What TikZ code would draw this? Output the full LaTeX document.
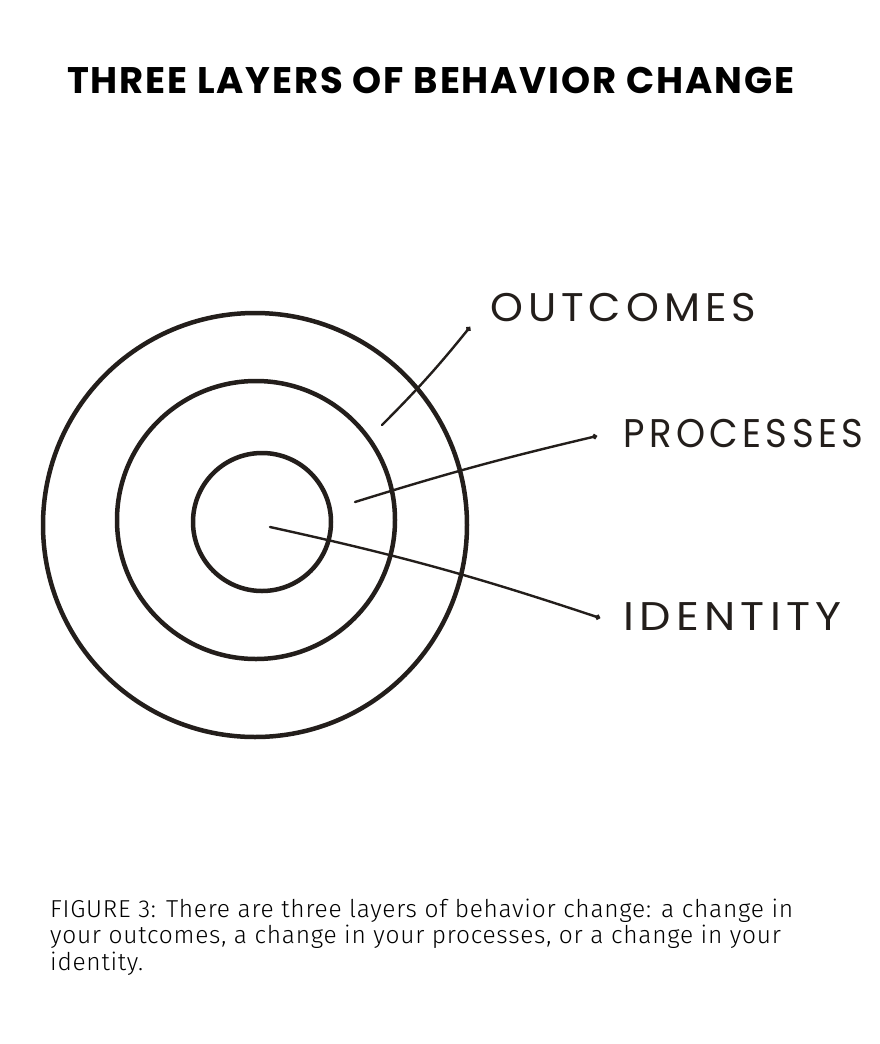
\documentclass[tikz,border=0pt]{standalone}
\usepackage{fontspec}
\setmainfont{Fira Sans Light}[LetterSpace=3]
\newfontfamily\titlefont{Poppins}[LetterSpace=5]
\newfontfamily\handfont{Poppins}[LetterSpace=12]
\usetikzlibrary{arrows.meta}

\definecolor{inkc}{HTML}{231E1B}

% handwritten label, stretched sideways by #1
\newcommand{\handlabel}[2]{\scalebox{#1}[1]{#2}}

\tikzset{
  ring/.style={circle, draw=inkc, line width=4.5pt, inner sep=0pt},
  pointer/.style={draw=inkc, line width=2.4pt, line cap=round, -{Circle[length=5pt]}},
  hand/.style={font=\handfont\fontsize{40}{40}\selectfont, text=inkc, inner sep=0pt, anchor=base west},
}

\begin{document}
\begin{tikzpicture}[x=1pt,y=1pt]
  \useasboundingbox[fill=white] (0,0) rectangle (880,-1044);

  % title
  \node[anchor=base west, inner sep=0pt, font=\titlefont\bfseries\fontsize{37}{37}\selectfont] (title) at (67,-93) {THREE LAYERS OF BEHAVIOR CHANGE};

  % the three layers
  \node[ring, minimum size=424pt] (outer) at (255,-525) {};
  \node[ring, minimum size=278pt] (middle) at (256,-520) {};
  \node[ring, minimum size=138pt] (inner) at (262,-522) {};

  % labels
  \node[hand] (outcomes) at (490,-321) {\handlabel{1.045}{OUTCOMES}};
  \node[hand] (processes) at (623,-447) {\handlabel{0.925}{PROCESSES}};
  \node[hand] (identity) at (623,-630) {\handlabel{1.11}{IDENTITY}};

  % pointers
  \coordinate (outc-dot) at (382,-425);
  \coordinate (outc-tip) at (470,-327);
  \coordinate (proc-dot) at (355,-502);
  \coordinate (proc-tip) at (597,-436);
  \coordinate (iden-dot) at (270,-527);
  \coordinate (iden-tip) at (600,-618);
  \draw[pointer] (outc-dot) to[bend right=3] (outc-tip);
  \draw[pointer] (proc-dot) to[bend left=2] (proc-tip);
  \draw[pointer] (iden-dot) to[bend left=3] (iden-tip);

  % caption
  \node[anchor=base west, inner sep=0pt, align=left, font=\fontsize{24.5}{26.5}\selectfont] (caption) at (50,-970)
    {FIGURE 3: There are three layers of behavior change: a change in\\
     your outcomes, a change in your processes, or a change in your\\
     identity.};
\end{tikzpicture}
\end{document}
